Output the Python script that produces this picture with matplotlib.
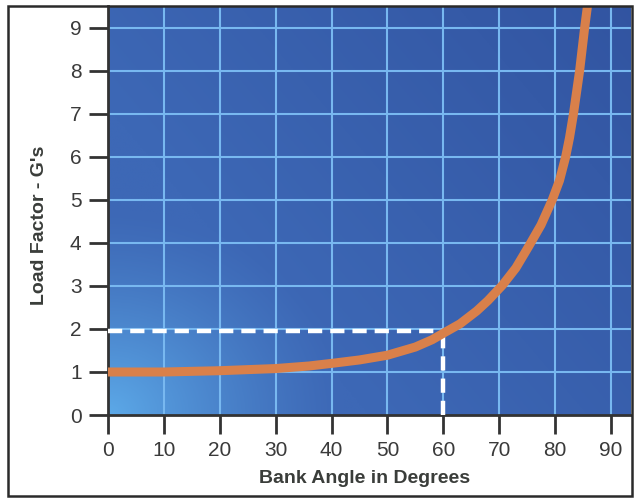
import numpy as np
import matplotlib
matplotlib.use("Agg")
import matplotlib.pyplot as plt
from matplotlib.patches import Rectangle

# Data
bank_angle = [0, 10, 20, 30, 36, 40, 45, 50, 55, 58, 60, 63, 66, 68, 70.6, 73, 75.2, 77.5,
              79.5, 80.8, 81.9, 82.6, 83.3, 84.4, 85.3, 85.8]
load_factor = [1.0, 1.0, 1.03, 1.08, 1.14, 1.2, 1.28, 1.39, 1.58, 1.75, 1.9, 2.12, 2.42, 2.66,
               3.02, 3.42, 3.9, 4.42, 5.0, 5.45, 6.0, 6.45, 7.0, 8.0, 9.0, 9.5]
ref_angle = 60
ref_load = 1.95
x_ticks = [0, 10, 20, 30, 40, 50, 60, 70, 80, 90]
y_ticks = [0, 1, 2, 3, 4, 5, 6, 7, 8, 9]

plt.rcParams['font.family'] = ['Liberation Sans', 'DejaVu Sans']

W, H = 634, 498
fig = plt.figure(figsize=(W / 100, H / 100), dpi=100)
fig.patch.set_facecolor('white')

ax = fig.add_axes([108 / W, (H - 415) / H, (631 - 108) / W, (415 - 6) / H])
xmax, ymax = 93.6, 9.51
ax.set_xlim(0, xmax)
ax.set_ylim(0, ymax)

# blue gradient background: light spot at bottom-left, medium blue elsewhere, darker top-right
nx, ny = 320, 260
gx = np.linspace(0, 1, nx)[None, :]
gy = np.linspace(0, 1, ny)[:, None]
d = np.sqrt((gx / 0.45) ** 2 + (gy / 0.5) ** 2)
light = np.clip(1 - d, 0, 1) ** 1.3
dark = np.clip((gx * 0.6 + gy * 0.4 - 0.3) / 0.7, 0, 1)
base = np.array([0x3d, 0x68, 0xb6]) / 255
lightc = np.array([0x5c, 0xa9, 0xe8]) / 255
darkc = np.array([0x2d, 0x4c, 0x98]) / 255
img = base[None, None, :] * (1 - light[..., None]) + lightc[None, None, :] * light[..., None]
img = img * (1 - 0.7 * dark[..., None]) + darkc[None, None, :] * 0.7 * dark[..., None]
ax.imshow(np.clip(img, 0, 1), extent=[0, xmax, 0, ymax], origin='lower', aspect='auto', zorder=0)

# grid
for xv in x_ticks[1:]:
    ax.axvline(xv, color='#78b8f0', lw=1.5, zorder=1)
for yv in y_ticks[1:]:
    ax.axhline(yv, color='#78b8f0', lw=1.5, zorder=1)

# dashed reference lines
ax.plot([0, ref_angle], [ref_load, ref_load], color='white', lw=3.2, dashes=(3.2, 1.8), zorder=3,
        dash_capstyle='butt')
ax.plot([ref_angle, ref_angle], [0, ref_load], color='white', lw=3.2, dashes=(3.2, 1.8), zorder=3,
        dash_capstyle='butt')

# curve
ax.plot(bank_angle, load_factor, color='#d9804a', lw=6.5, zorder=4, solid_capstyle='butt',
        solid_joinstyle='round')

ax.set_xticks(x_ticks)
ax.set_yticks(y_ticks)
ax.tick_params(axis='both', colors='#333333', length=14, width=2, labelsize=15, pad=5,
               labelcolor='#3a3a3a')
for s in ['top', 'right']:
    ax.spines[s].set_visible(False)
for s in ['left', 'bottom']:
    ax.spines[s].set_color('#333333')
    ax.spines[s].set_linewidth(2)

fig.text(365 / W, (H - 478) / H, 'Bank Angle in Degrees', ha='center', va='center',
         fontsize=14, fontweight='bold', color='#3a3d3a')
fig.text(40 / W, (H - 225) / H, "Load Factor - G's", ha='center', va='center', rotation=90,
         fontsize=14, fontweight='bold', color='#3a3d3a')

# outer frame
fig.add_artist(Rectangle((8 / W, 2 / H), (632 - 8) / W, (492 - 2) / H, transform=fig.transFigure,
                         fill=False, edgecolor='#2a2a2a', lw=1.8))

fig.savefig('out.png', dpi=100, facecolor='white')
